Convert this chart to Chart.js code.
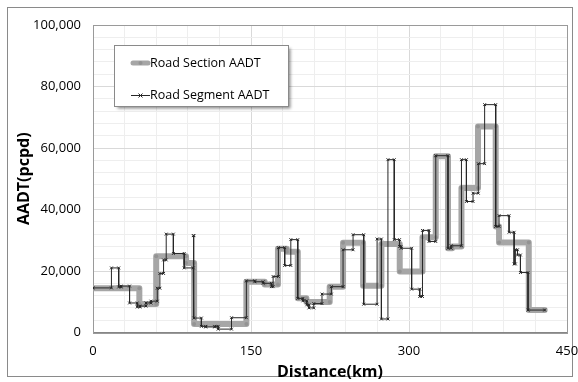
<!DOCTYPE html>
<html>
<head>
<meta charset="utf-8">
<script src="https://cdn.jsdelivr.net/npm/chart.js@4/dist/chart.umd.min.js"></script>
<style>
  html, body { margin: 0; padding: 0; background: #ffffff; }
  #wrap { width: 578px; height: 382px; }
</style>
</head>
<body>
<div id="wrap"><canvas id="c" width="578" height="382"></canvas></div>
<script>
// Road section AADT: km boundaries of each section and its AADT (pcpd)
const sectionBreaks = [0, 44, 60, 88.3, 96, 145.6, 163, 175.6, 184, 194.4, 202.6, 224.7, 237.4, 256.4,
  273.8, 291.2, 312.8, 325.4, 337, 341, 349.8, 365.5, 382.3, 385.5, 413.7, 428.8];
const sectionAadt = [14400, 9300, 24800, 22600, 2800, 16500, 15600, 27200, 26300, 11100, 9900, 14900,
  29200, 15200, 28800, 19800, 31000, 57300, 27400, 28000, 47000, 67000, 34500, 29300, 7300];

// Road segment AADT: km boundaries of each segment and its AADT (pcpd)
const segmentBreaks = [0, 17.5, 24.4, 26.7, 34.7, 42.0, 44.5, 50.3, 55.0, 61.0,
  63.5, 67.0, 69.5, 76.3, 86.6, 95.2, 95.8, 102.9, 107.0, 115.6,
  118.8, 131.5, 145.6, 153.6, 161.5, 169.4, 171.0, 176.0, 182.0, 187.8,
  194.4, 199.3, 203.0, 205.0, 209.6, 217.4, 226.3, 237.4, 246.9, 257.0,
  269.7, 273.8, 280.0, 286.0, 291.0, 292.5, 302.5, 310.2, 312.8, 319.0,
  325.4, 337.0, 340.0, 349.8, 354.5, 360.8, 365.8, 371.8, 382.3, 385.5,
  395.0, 399.8, 401.0, 403.0, 405.8, 413.0, 428.8];
const segmentAadt = [14500, 21000, 14800, 15100, 9600, 8300, 8600, 9600, 10200, 14400,
  19200, 23600, 32000, 25700, 21000, 31500, 4700, 2000, 1800, 2000,
  1100, 4800, 16800, 16500, 16000, 14900, 18200, 27600, 21800, 30200,
  11100, 10300, 9000, 8000, 9400, 12500, 14900, 26900, 31800, 9200,
  30400, 4400, 56200, 30200, 28000, 27400, 14100, 11700, 33200, 29600,
  57500, 27400, 28200, 56200, 42600, 45300, 54900, 74100, 34500, 38000,
  32600, 22300, 26900, 25200, 19500, 7300];

// Axis settings
const xMin = 0, xMax = 450, xMinorStep = 30, xLabelStep = 150;
const yMin = 0, yMax = 100000, yMinorStep = 4000, yLabelStep = 20000;

const seriesNames = ['Road Section AADT', 'Road Segment AADT'];

// Each section / segment becomes a flat run from its start km to its end km
function stepPoints(breaks, values) {
  const pts = [];
  values.forEach((v, i) => {
    pts.push({ x: breaks[i], y: v });
    pts.push({ x: breaks[i + 1], y: v });
  });
  return pts;
}

const FONT = '"Open Sans", "Noto Sans", sans-serif';

const sectionStyle = { color: '#a6a6a6', width: 6, dot: '#939393' };
const segmentStyle = { color: '#262626', width: 1 };

// White page, outer frame and plot-area frame
const framePlugin = {
  id: 'frame',
  beforeDraw(chart) {
    const ctx = chart.ctx;
    ctx.save();
    ctx.fillStyle = '#ffffff';
    ctx.fillRect(0, 0, chart.width, chart.height);
    ctx.strokeStyle = '#8a8a8a';
    ctx.lineWidth = 1;
    ctx.strokeRect(7.5, 7.5, 565, 369);
    ctx.restore();
  },
  beforeDatasetsDraw(chart) {
    const { ctx, chartArea: a } = chart;
    ctx.save();
    ctx.strokeStyle = '#9a9a9a';
    ctx.lineWidth = 1;
    ctx.strokeRect(Math.round(a.left) + 0.5, Math.round(a.top) + 0.5,
      Math.round(a.right - a.left), Math.round(a.bottom - a.top));
    ctx.restore();
  }
};

// Boxed legend with drop shadow inside the plot area
const boxLegend = {
  id: 'boxLegend',
  afterDatasetsDraw(chart) {
    const ctx = chart.ctx;
    const bx = 114.5, by = 45.5, bw = 174, bh = 61;
    ctx.save();
    ctx.shadowColor = 'rgba(0,0,0,0.45)';
    ctx.shadowOffsetX = 2;
    ctx.shadowOffsetY = 2;
    ctx.shadowBlur = 3;
    ctx.fillStyle = '#ffffff';
    ctx.fillRect(bx, by, bw, bh);
    ctx.restore();

    ctx.save();
    ctx.strokeStyle = '#8a8a8a';
    ctx.lineWidth = 1;
    ctx.strokeRect(bx, by, bw, bh);

    // section sample
    const y1 = 63, y2 = 95, lx0 = 131, lx1 = 150;
    ctx.strokeStyle = sectionStyle.color;
    ctx.lineWidth = 5;
    ctx.lineCap = 'round';
    ctx.beginPath(); ctx.moveTo(lx0 + 2, y1); ctx.lineTo(lx1 - 2, y1); ctx.stroke();
    ctx.fillStyle = sectionStyle.dot;
    ctx.beginPath(); ctx.arc((lx0 + lx1) / 2, y1, 2, 0, Math.PI * 2); ctx.fill();

    // segment sample
    ctx.strokeStyle = segmentStyle.color;
    ctx.lineWidth = 1;
    ctx.lineCap = 'butt';
    ctx.beginPath(); ctx.moveTo(lx0, y2 + 0.5); ctx.lineTo(lx1, y2 + 0.5); ctx.stroke();
    const cx = (lx0 + lx1) / 2, r = 2;
    ctx.beginPath();
    ctx.moveTo(cx - r, y2 - r + 0.5); ctx.lineTo(cx + r, y2 + r + 0.5);
    ctx.moveTo(cx + r, y2 - r + 0.5); ctx.lineTo(cx - r, y2 + r + 0.5);
    ctx.stroke();

    ctx.fillStyle = '#000000';
    ctx.font = '12.5px ' + FONT;
    ctx.textBaseline = 'middle';
    ctx.textAlign = 'left';
    ctx.fillText(seriesNames[0], 150, y1);
    ctx.fillText(seriesNames[1], 150, y2);
    ctx.restore();
  }
};

new Chart(document.getElementById('c'), {
  type: 'scatter',
  data: {
    datasets: [
      {
        label: seriesNames[0],
        data: stepPoints(sectionBreaks, sectionAadt),
        showLine: true,
        borderColor: sectionStyle.color,
        borderWidth: sectionStyle.width,
        borderJoinStyle: 'round',
        borderCapStyle: 'round',
        pointRadius: 2,
        pointBorderWidth: 0,
        pointBackgroundColor: sectionStyle.dot,
        pointStyle: 'circle',
        order: 2
      },
      {
        label: seriesNames[1],
        data: stepPoints(segmentBreaks, segmentAadt),
        showLine: true,
        borderColor: segmentStyle.color,
        borderWidth: segmentStyle.width,
        pointStyle: 'crossRot',
        pointRadius: 2,
        pointBorderWidth: 1,
        pointBorderColor: segmentStyle.color,
        order: 1
      }
    ]
  },
  options: {
    responsive: false,
    animation: false,
    devicePixelRatio: 1,
    layout: { padding: { top: 25, right: 11, bottom: 0, left: 0 } },
    plugins: {
      legend: { display: false },
      tooltip: { enabled: false }
    },
    scales: {
      x: {
        type: 'linear',
        min: xMin,
        max: xMax,
        afterFit(scale) {
          scale.height = 49.5;
          scale.paddingLeft = 0;
          scale.paddingRight = 0;
        },
        ticks: {
          stepSize: xMinorStep,
          autoSkip: false,
          maxRotation: 0,
          padding: 11,
          color: '#000000',
          font: { family: FONT, size: 13 },
          callback: v => (v % xLabelStep === 0 ? String(v) : '')
        },
        grid: {
          drawTicks: false,
          color: c => (c.tick && c.tick.value % xLabelStep === 0 ? '#d9d9d9' : '#eeeeee')
        },
        border: { display: true, color: '#868686' },
        title: {
          display: true,
          text: 'Distance(km)',
          color: '#000000',
          font: { family: FONT, size: 16, weight: 'bold' },
          padding: { top: 0, bottom: 0 }
        }
      },
      y: {
        type: 'linear',
        min: yMin,
        max: yMax,
        afterFit(scale) {
          scale.width = 93;
          scale.paddingTop = 0;
          scale.paddingBottom = 0;
        },
        ticks: {
          stepSize: yMinorStep,
          autoSkip: false,
          padding: 12,
          color: '#000000',
          font: { family: FONT, size: 13 },
          callback: v => (v % yLabelStep === 0 ? v.toLocaleString('en-US') : '')
        },
        grid: {
          drawTicks: false,
          color: c => (c.tick && c.tick.value % yLabelStep === 0 ? '#d9d9d9' : '#eeeeee')
        },
        border: { display: true, color: '#868686' },
        title: {
          display: true,
          text: 'AADT(pcpd)',
          color: '#000000',
          font: { family: FONT, size: 16, weight: 'bold' },
          padding: { top: 15, bottom: 0 }
        }
      }
    }
  },
  plugins: [framePlugin, boxLegend]
});
</script>
</body>
</html>
